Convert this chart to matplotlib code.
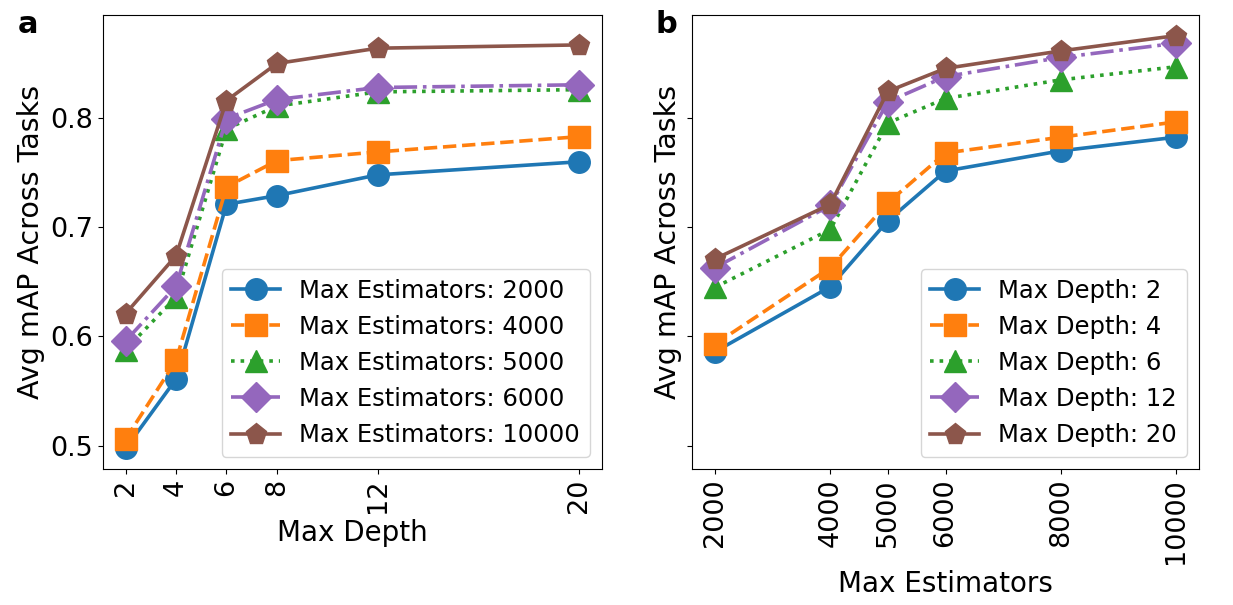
import matplotlib
matplotlib.use("Agg")
import matplotlib.pyplot as plt

# Panel a: performance vs. max depth, one line per estimator budget
depths = [2, 4, 6, 8, 12, 20]
est_2000 = [0.4975, 0.561, 0.721, 0.729, 0.748, 0.760]
est_4000 = [0.506, 0.578, 0.737, 0.761, 0.769, 0.783]
est_5000 = [0.588, 0.636, 0.790, 0.811, 0.824, 0.826]
est_6000 = [0.596, 0.646, 0.7995, 0.817, 0.828, 0.8305]
est_10000 = [0.621, 0.674, 0.816, 0.850, 0.864, 0.867]
est_labels = ["Max Estimators: 2000", "Max Estimators: 4000",
              "Max Estimators: 5000", "Max Estimators: 6000",
              "Max Estimators: 10000"]

# Panel b: performance vs. number of estimators, one line per depth
estimators = [2000, 4000, 5000, 6000, 8000, 10000]
depth_2 = [0.586, 0.6455, 0.706, 0.7515, 0.770, 0.7825]
depth_4 = [0.593, 0.663, 0.7225, 0.768, 0.7825, 0.7965]
depth_6 = [0.645, 0.698, 0.7955, 0.818, 0.835, 0.847]
depth_12 = [0.663, 0.720, 0.815, 0.838, 0.8555, 0.8685]
depth_20 = [0.671, 0.721, 0.8245, 0.8455, 0.8615, 0.8755]
depth_labels = ["Max Depth: 2", "Max Depth: 4", "Max Depth: 6",
                "Max Depth: 12", "Max Depth: 20"]

colors = ["#1f77b4", "#ff7f0e", "#2ca02c", "#9467bd", "#8c564b"]
markers = ["o", "s", "^", "D", "p"]
styles = ["-", "--", ":", "-.", "-"]

fig = plt.figure(figsize=(12.33, 6.05), dpi=100)
ax1 = fig.add_axes([103 / 1233, 1 - 469 / 605, 499 / 1233, 454 / 605])
ax2 = fig.add_axes([692 / 1233, 1 - 469 / 605, 507 / 1233, 454 / 605], sharey=ax1)

def draw(ax, x, series, labels, xlabel):
    for ys, lab, c, m, ls in zip(series, labels, colors, markers, styles):
        ax.plot(x, ys, linestyle=ls, marker=m, color=c, label=lab,
                linewidth=2.6, markersize=15.5)
    ax.set_xticks(x)
    ax.set_xticklabels([str(v) for v in x], rotation=90, fontsize=19.5)
    ax.set_xlabel(xlabel, fontsize=20)
    ax.set_ylabel("Avg mAP Across Tasks", fontsize=20.5)
    ax.tick_params(axis="y", labelsize=19.5)
    ax.legend(loc="lower right", fontsize=17.5)

draw(ax1, depths, [est_2000, est_4000, est_5000, est_6000, est_10000],
     est_labels, "Max Depth")
draw(ax2, estimators, [depth_2, depth_4, depth_6, depth_12, depth_20],
     depth_labels, "Max Estimators")

ax1.set_yticks([0.5, 0.6, 0.7, 0.8])
ax2.tick_params(axis="y", labelleft=False)

fig.text(18 / 1233, 1 - 33 / 605, "a", fontsize=22, fontweight="bold")
fig.text(655 / 1233, 1 - 33 / 605, "b", fontsize=22, fontweight="bold")

fig.savefig("out.png", dpi=100)
